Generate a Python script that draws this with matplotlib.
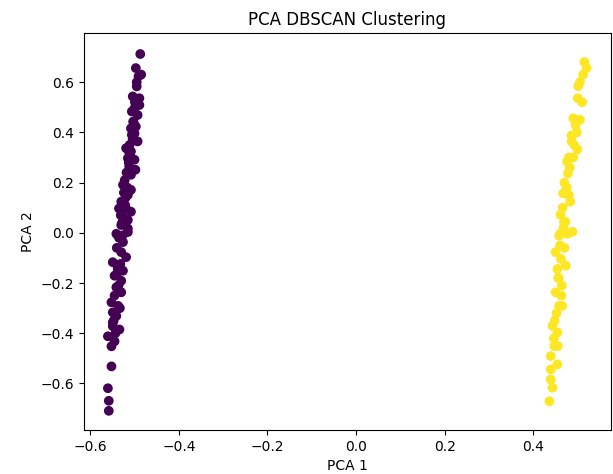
import numpy as np
import matplotlib
matplotlib.use("Agg")
import matplotlib.pyplot as plt

# cluster 0 (left, purple)
pca1_c0 = [-0.487, -0.497, -0.485, -0.491, -0.495, -0.504, -0.489, -0.500, -0.489, -0.506,
           -0.493, -0.503, -0.497, -0.508, -0.500, -0.504, -0.504, -0.493, -0.519, -0.508,
           -0.515, -0.500, -0.512, -0.498, -0.508, -0.526, -0.508, -0.515, -0.530, -0.535,
           -0.519, -0.508, -0.526, -0.515, -0.530, -0.515, -0.541, -0.515, -0.526, -0.530,
           -0.519, -0.549, -0.532, -0.526, -0.545, -0.530, -0.541, -0.530, -0.552, -0.537,
           -0.549, -0.541, -0.549, -0.549, -0.534, -0.560, -0.545, -0.552, -0.552, -0.560,
           -0.558, -0.558, -0.510, -0.522, -0.513, -0.520, -0.528, -0.535, -0.540, -0.545,
           -0.538, -0.521, -0.516, -0.502, -0.495, -0.511, -0.533, -0.543, -0.527, -0.536,
           -0.518, -0.524, -0.512, -0.531, -0.547, -0.539, -0.506, -0.499]
pca2_c0 = [0.712, 0.656, 0.630, 0.623, 0.583, 0.543, 0.536, 0.496, 0.509, 0.483,
           0.469, 0.443, 0.423, 0.416, 0.396, 0.376, 0.371, 0.364, 0.337, 0.324,
           0.297, 0.291, 0.264, 0.251, 0.231, 0.191, 0.171, 0.151, 0.124, 0.097,
           0.097, 0.084, 0.064, 0.051, 0.031, 0.017, -0.004, 0.003, -0.037, -0.077,
           -0.097, -0.117, -0.124, -0.151, -0.171, -0.191, -0.217, -0.237, -0.277, -0.291,
           -0.317, -0.331, -0.357, -0.372, -0.385, -0.412, -0.432, -0.452, -0.532, -0.619,
           -0.669, -0.709, 0.310, 0.210, 0.280, 0.140, 0.040, -0.020, -0.060, -0.250,
           -0.140, 0.110, 0.180, 0.440, 0.600, 0.350, -0.300, -0.400, -0.010, -0.210,
           0.240, 0.160, 0.320, 0.070, -0.350, -0.160, 0.390, 0.520]

# cluster 1 (right, yellow)
pca1_c1 = [0.515, 0.520, 0.512, 0.505, 0.501, 0.500, 0.510, 0.490, 0.495, 0.486,
           0.486, 0.499, 0.476, 0.478, 0.467, 0.483, 0.461, 0.472, 0.461, 0.488,
           0.469, 0.458, 0.477, 0.450, 0.462, 0.454, 0.473, 0.450, 0.458, 0.465,
           0.443, 0.454, 0.447, 0.455, 0.439, 0.454, 0.439, 0.439, 0.443, 0.436,
           0.505, 0.498, 0.492, 0.480, 0.470, 0.482, 0.466, 0.475, 0.468, 0.460,
           0.456, 0.464, 0.452, 0.448, 0.446, 0.470, 0.480, 0.490, 0.463, 0.457]
pca2_c1 = [0.680, 0.656, 0.630, 0.600, 0.584, 0.536, 0.520, 0.456, 0.430, 0.388,
           0.364, 0.332, 0.284, 0.237, 0.157, 0.124, 0.072, 0.044, -0.003, 0.004,
           0.043, -0.011, -0.004, -0.077, -0.104, -0.144, -0.131, -0.237, -0.291, -0.291,
           -0.371, -0.397, -0.451, -0.451, -0.491, -0.524, -0.544, -0.584, -0.617, -0.671,
           0.450, 0.400, 0.350, 0.300, 0.200, 0.260, 0.100, 0.180, 0.020, -0.050,
           -0.180, -0.210, -0.320, -0.350, -0.420, -0.060, 0.150, 0.300, -0.250, -0.180]

x = np.array(pca1_c0 + pca1_c1)
y = np.array(pca2_c0 + pca2_c1)
labels = np.array([0] * len(pca1_c0) + [1] * len(pca1_c1))

fig = plt.figure(figsize=(6.13, 4.74), dpi=100)
ax = fig.add_subplot(111)
fig.subplots_adjust(left=0.137, right=0.996, bottom=0.093, top=0.93)
ax.scatter(x, y, c=labels, cmap='viridis')
ax.set_ylim(-0.785, 0.795)
ax.set_title('PCA DBSCAN Clustering')
ax.set_xlabel('PCA 1')
ax.set_ylabel('PCA 2')
fig.savefig('out.png', dpi=100)
